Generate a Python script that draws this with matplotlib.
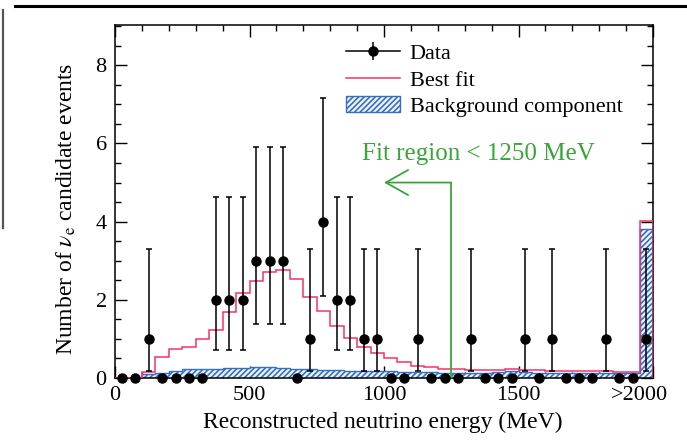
import numpy as np
import matplotlib
matplotlib.use("Agg")
import matplotlib.pyplot as plt
from matplotlib.lines import Line2D
from matplotlib.patches import Patch
from matplotlib.ticker import MultipleLocator
import matplotlib.transforms as mtransforms

# ---------------- data ----------------
bin_edges = np.arange(0, 2001, 50)          # MeV, last bin is overflow (>2000)
data_counts = [0, 0, 1, 0, 0, 0, 0, 2, 2, 2,
               3, 3, 3, 0, 1, 4, 2, 2, 1, 1,
               0, 0, 1, 0, 0, 0, 1, 0, 0, 0,
               1, 0, 1, 0, 0, 0, 1, 0, 0, 1]
best_fit = [0.0, 0.0, 0.15, 0.54, 0.73, 0.80, 0.99, 1.23, 1.70, 2.17,
            2.49, 2.72, 2.76, 2.52, 2.08, 1.72, 1.33, 1.02, 0.80, 0.63,
            0.50, 0.40, 0.31, 0.27, 0.23, 0.22, 0.20, 0.20, 0.21, 0.22,
            0.20, 0.20, 0.19, 0.19, 0.18, 0.18, 0.17, 0.16, 0.15, 4.02]
background = [0.0, 0.0, 0.10, 0.12, 0.17, 0.22, 0.22, 0.24, 0.26, 0.26,
              0.27, 0.27, 0.26, 0.24, 0.22, 0.21, 0.20, 0.19, 0.19, 0.18,
              0.17, 0.16, 0.15, 0.15, 0.14, 0.14, 0.14, 0.14, 0.15, 0.17,
              0.15, 0.14, 0.14, 0.14, 0.14, 0.14, 0.14, 0.13, 0.13, 3.80]
# 68% Poisson intervals drawn as error bars
poisson_n = [1, 2, 3, 4]
poisson_lo = [0.17, 0.71, 1.37, 2.09]
poisson_hi = [3.30, 4.64, 5.92, 7.16]

xtick_pos = [0, 500, 1000, 1500, 2000]
xtick_labels = ["0", "500", "1000", "1500", ">2000"]
ytick_pos = [0, 2, 4, 6, 8]
fit_limit = 1250
arrow_end = 1000
arrow_level = 5.0
fit_text = "Fit region < 1250 MeV"

# ---------------- style ----------------
plt.rcParams["font.family"] = ["Liberation Serif", "DejaVu Serif"]
plt.rcParams["mathtext.fontset"] = "stix"
plt.rcParams["hatch.linewidth"] = 1.2

RED = "#f5336b"
BLUE = "#3570c0"
GREEN = "#3aa53a"

fig = plt.figure(figsize=(6.87, 4.41), dpi=100)
fig.patch.set_facecolor("white")
ax = fig.add_axes([115 / 687, 1 - 378 / 441, (653 - 115) / 687, (378 - 25) / 441])

centers = 0.5 * (bin_edges[:-1] + bin_edges[1:])

# background component (hatched)
ax.stairs(background, bin_edges, fill=True, hatch="//////",
          facecolor="#eef4fb", edgecolor=BLUE, linewidth=1.0, zorder=2)
# best fit
ax.stairs(best_fit, bin_edges, color=RED, linewidth=1.1, zorder=3)

# data with Poisson error bars
lo_map = dict(zip(poisson_n, poisson_lo))
hi_map = dict(zip(poisson_n, poisson_hi))
counts = np.array(data_counts, dtype=float)
err_lo = np.array([c - lo_map[c] if c in lo_map else 0.0 for c in data_counts])
err_hi = np.array([hi_map[c] - c if c in hi_map else 0.0 for c in data_counts])
nz = counts > 0
ax.errorbar(centers[nz], counts[nz], yerr=[err_lo[nz], err_hi[nz]], fmt="o",
            color="black", ms=6.5, capsize=2.0, elinewidth=1.1, capthick=1.1,
            zorder=5, clip_on=False)
ax.plot(centers[~nz], counts[~nz], "o", color="black", ms=6.5, zorder=5,
        clip_on=False)

# fit-region annotation
ax.plot([fit_limit, fit_limit], [0, arrow_level], color=GREEN, lw=1.3, zorder=4)
ax.annotate("", xy=(arrow_end, arrow_level), xytext=(fit_limit, arrow_level),
            arrowprops=dict(arrowstyle="->,head_length=0.8,head_width=0.45",
                            color=GREEN, lw=1.3, shrinkA=0, shrinkB=0,
                            mutation_scale=20), zorder=4)
ax.text(1350, 5.72, fit_text, color=GREEN, fontsize=18, ha="center", va="center")

# axes
ax.set_xlim(0, 2000)
ax.set_ylim(0, 9.03)
ax.set_xticks(xtick_pos)
ax.set_xticklabels(xtick_labels)
ax.set_yticks(ytick_pos)
ax.xaxis.set_minor_locator(MultipleLocator(100))
ax.yaxis.set_minor_locator(MultipleLocator(0.5))
ax.tick_params(which="both", direction="in", top=True, right=True,
               width=1.0, labelsize=16)
ax.tick_params(which="major", length=8.5)
ax.tick_params(which="minor", length=4.3)
ax.tick_params(axis="x", pad=6)
ax.tick_params(axis="y", pad=6)
for s in ax.spines.values():
    s.set_linewidth(1.1)

last = ax.get_xticklabels()[-1]
last.set_transform(last.get_transform() +
                   mtransforms.ScaledTranslation(-0.14, 0, fig.dpi_scale_trans))

ax.set_xlabel("Reconstructed neutrino energy (MeV)", fontsize=17)
ax.set_ylabel(r"Number of $\nu_{\mathrm{e}}$ candidate events", fontsize=17)
ax.xaxis.set_label_coords(0.497, -0.097)
ax.yaxis.set_label_coords(-0.068, 0.48)

# legend
h_data = (Line2D([], [], color="black", ls="-", lw=1.1),
          Line2D([], [], color="black", marker="|", ls="none", ms=13, mew=1.1),
          Line2D([], [], color="black", marker="o", ls="none", ms=6.5))
h_fit = Line2D([], [], color=RED, lw=1.1)
h_bkg = Patch(facecolor="#eef4fb", edgecolor=BLUE, hatch="//////", lw=1.0)
ax.legend([h_data, h_fit, h_bkg], ["Data", "Best fit", "Background component"],
          loc="upper left", bbox_to_anchor=(0.43, 0.947), frameon=False,
          fontsize=16, handlelength=2.4, handletextpad=0.45, labelspacing=0.26,
          borderpad=0.0, borderaxespad=0.0)

# page decorations from the cropped paper
fig.add_artist(Line2D([15 / 687, 1.0], [1 - 6 / 441, 1 - 6 / 441],
                      color="black", lw=2.2))
fig.add_artist(Line2D([2.5 / 687, 2.5 / 687], [1 - 10 / 441, 1 - 228 / 441],
                      color="#555555", lw=1.6))

fig.savefig("out.png", dpi=100, facecolor="white")
